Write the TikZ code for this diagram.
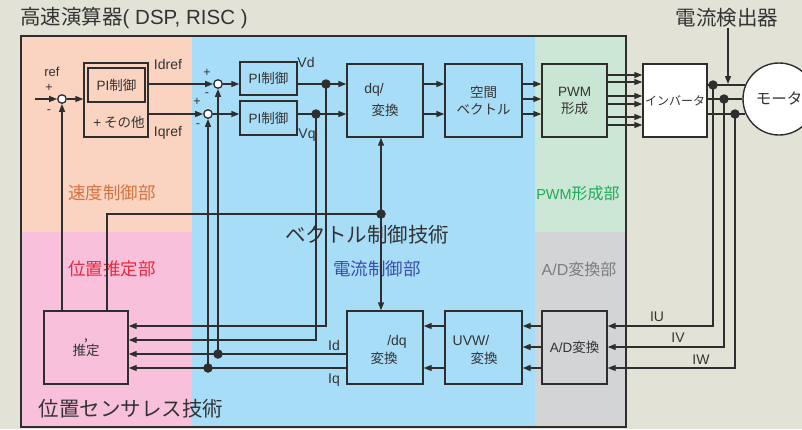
\documentclass[tikz,border=0pt]{standalone}
\usepackage{fontspec}
\setmainfont{Noto Sans CJK JP}
\newfontfamily\lat{Liberation Sans}
\usetikzlibrary{arrows.meta,positioning,calc}
\definecolor{bgpaper}{HTML}{E2E3D6}
\definecolor{peachz}{HTML}{FAD3C1}
\definecolor{pinkz}{HTML}{F8C0DA}
\definecolor{bluez}{HTML}{A8DDF8}
\definecolor{greenz}{HTML}{CDE7D7}
\definecolor{greyz}{HTML}{D3D4D6}
\definecolor{pwmfill}{HTML}{C9E5D3}
\definecolor{linec}{HTML}{2E2E2E}
\definecolor{txtc}{HTML}{333333}
\definecolor{speedc}{HTML}{D27442}
\definecolor{posc}{HTML}{E8283C}
\definecolor{curc}{HTML}{3A4DA8}
\definecolor{adc}{HTML}{7D7D7D}
\definecolor{pwmc}{HTML}{1DAA55}

\begin{document}
\begin{tikzpicture}[x=1pt,y=-1pt,
  blk/.style={rectangle, draw=linec, line width=1.4pt, fill=#1, minimum width=76pt, minimum height=73pt, align=center, inner sep=1pt, text=txtc, font=\fontsize{13.5}{17}\selectfont},
  blk/.default=none,
  sumpt/.style={circle, draw=linec, line width=1.3pt, fill=white, minimum size=8.5pt, inner sep=0pt},
  dot/.style={circle, fill=linec, minimum size=9.5pt, inner sep=0pt},
  arr/.style={-{Triangle[length=8pt,width=6pt]}, line width=1.4pt, draw=linec},
  ln/.style={line width=1.4pt, draw=linec},
  sig/.style={text=txtc, inner sep=0pt, font=\lat\fontsize{14}{16}\selectfont},
  pm/.style={text=txtc, inner sep=0pt, font=\lat\fontsize{12.5}{14}\selectfont},
  zone/.style={text=#1, inner sep=0pt, font=\fontsize{17.5}{20}\selectfont},
  ttl/.style={text=txtc, inner sep=0pt, font=\fontsize{20.5}{24}\selectfont}
]
  \useasboundingbox (0,0) rectangle (802,429);
  \fill[bgpaper] (0,0) rectangle (802,429);
  \fill[peachz] (21,36) rectangle (192,232);
  \fill[pinkz] (21,232) rectangle (192,427);
  \fill[bluez] (192,36) rectangle (535,427);
  \fill[greenz] (535,36) rectangle (626,232);
  \fill[greyz] (535,232) rectangle (626,427);
  \draw[line width=2pt, linec] (21,36) rectangle (626,427);

  \node[ttl, anchor=west] (title) at (20,18) {高速演算器{\lat( DSP, RISC )}};
  \node[ttl] (senslbl) at (727,18) {電流検出器};

  \node[zone=speedc] (lspeed) at (112,193) {速度制御部};
  \node[zone=pwmc, font=\fontsize{16}{18}\selectfont] (lpwm) at (578,193) {{\lat\fontsize{14.5}{18}\selectfont PWM}形成部};
  \node[zone=posc] (lpos) at (112,269) {位置推定部};
  \node[zone=curc] (lcur) at (377,269) {電流制御部};
  \node[zone=adc, font=\fontsize{16}{18}\selectfont] (lad) at (579,269) {{\lat A/D}変換部};
  \node[ttl] (lvec) at (367,235) {ベクトル制御技術};
  \node[ttl] (lsensless) at (131,409) {位置センサレス技術};

  % blocks
  \node[sumpt] (sumr) at (62,99) {};
  \node[blk, minimum width=64pt, minimum height=74pt] (pibig) at (116,100) {};
  \node[blk, minimum width=57pt, minimum height=34pt] (piin) at (116.5,85) {{\lat PI}制御};
  \node[sig, font=\fontsize{13.5}{15}\selectfont] (other) at (119,122) {{\lat +} その他};
  \node[sumpt] (sumd) at (218,84) {};
  \node[sumpt] (sumq) at (208,114) {};
  \node[blk, minimum width=57pt, minimum height=33pt] (pid) at (268.5,78.5) {{\lat PI}制御};
  \node[blk, minimum width=57pt, minimum height=34pt] (piq) at (268.5,118) {{\lat PI}制御};
  \node[blk] (dq) at (385,100.5) {};
  \node[blk, minimum width=77pt] (svec) at (483.5,100.5) {空間\\ベクトル};
  \node[blk=pwmfill, minimum width=65pt] (pwm) at (574.5,100.5) {{\lat PWM}\\形成};
  \node[blk=white, minimum width=64pt, font=\fontsize{12}{14}\selectfont] (inv) at (675,100.5) {インバータ};
  \node[blk=greyz, minimum width=65pt] (ad) at (574.5,347.5) {{\lat A/D}変換};
  \node[blk, minimum width=77pt] (uvw) at (483.5,347.5) {};
  \node[blk] (idq) at (385,347.5) {};
  \node[blk, minimum width=84pt, font=\fontsize{13.5}{15}\selectfont] (est) at (86,347.5) {,\\推定};

  \node[sig] (dqa) at ($(dq.center)+(-11,-10.5)$) {dq/};
  \node[sig, font=\fontsize{13.5}{15}\selectfont] (dqb) at ($(dq.center)+(0,9.5)$) {変換};
  \node[sig] (idqa) at ($(idq.center)+(12,-5.5)$) {/dq};
  \node[sig, font=\fontsize{13.5}{15}\selectfont] (idqb) at ($(idq.center)+(-1,10.5)$) {変換};
  \node[sig] (uvwa) at ($(uvw.center)+(-12.5,-7.5)$) {UVW/};
  \node[sig, font=\fontsize{13.5}{15}\selectfont] (uvwb) at ($(uvw.center)+(0.5,10.5)$) {変換};

  % signs and signal names
  \node[pm, font=\lat\fontsize{13}{15}\selectfont] (lref) at ($(sumr)+(-10,-27)$) {ref};
  \node[pm] (prp) at ($(sumr)+(-13,-11)$) {+};
  \node[pm] (prm) at ($(sumr)+(-13,13)$) {-};
  \node[pm] (pdp) at ($(sumd)+(-11,-11)$) {+};
  \node[pm] (pdm) at ($(sumd)+(-11,11)$) {-};
  \node[pm] (pqp) at ($(sumq)+(-11,-12)$) {+};
  \node[pm] (pqm) at ($(sumq)+(-10,12)$) {-};
  \node[sig] (lidref) at (168,64) {Idref};
  \node[sig] (liqref) at (168,133) {Iqref};
  \node[sig] (lvd) at (306,62) {Vd};
  \node[sig] (lvq) at (307,135) {Vq};
  \node[sig] (lid) at (334,345) {Id};
  \node[sig] (liq) at (334,380) {Iq};
  \node[sig] (liu) at (657,317) {IU};
  \node[sig] (liv) at (678,338) {IV};
  \node[sig] (liw) at (701,360) {IW};

  % junctions
  \node[dot] (jd) at (326,84) {};
  \node[dot] (jq) at (316,114) {};
  \node[dot] (jv) at (381,214) {};
  \node[dot] (jid) at (218,354) {};
  \node[dot] (jiq) at (208,368) {};
  \node[dot] (ju) at (713,85) {};
  \node[dot] (jvv) at (724,99) {};
  \node[dot] (jw) at (735,114) {};

  \coordinate (refin) at (35,99);
  \coordinate (f1) at (0,326);
  \coordinate (f2) at (0,340);
  \coordinate (iv) at (0,347);
  \coordinate (f4) at (0,368);
  \coordinate (sens) at (728,84);

  % forward path
  \draw[arr] (refin) -- (sumr);
  \draw[arr] (sumr) -- (pibig.west |- sumr);
  \draw[arr] (est.north -| sumr) -- (sumr);
  \draw[arr] (pibig.east |- sumd) -- (sumd);
  \draw[arr] (pibig.east |- sumq) -- (sumq);
  \draw[arr] (sumd) -- (pid.west |- sumd);
  \draw[arr] (sumq) -- (piq.west |- sumq);
  \draw[arr] (pid.east |- sumd) -- (dq.west |- sumd);
  \draw[arr] (piq.east |- sumq) -- (dq.west |- sumq);
  \draw[arr] (dq.east |- sumd) -- (svec.west |- sumd);
  \draw[arr] (dq.east |- sumq) -- (svec.west |- sumq);
  \foreach \r in {84,99,114}
    \draw[arr] (svec.east |- 0,\r) -- (pwm.west |- 0,\r);
  \foreach \r in {75,82,96,104,117,125}
    \draw[arr] (pwm.east |- 0,\r) -- (inv.west |- 0,\r);

  % feedback
  \draw[arr] (jd.center) -- (jd.center |- f1) -- (est.east |- f1);
  \draw[arr] (jq.center) -- (jq.center |- f2) -- (est.east |- f2);
  \draw[arr] (idq.west |- jid) -- (est.east |- jid);
  \draw[arr] (jid.center) -- (sumd);
  \draw[arr] (idq.west |- jiq) -- (est.east |- jiq);
  \draw[arr] (jiq.center) -- (sumq);
  \draw[arr] (jv.center) -- (dq.south -| jv);
  \draw[arr] (jv.center) -- (idq.north -| jv);
  \draw[ln] (jv.center) -| ([xshift=21pt]est.north);

  \draw[arr] (ju.center) -- (ju.center |- f1) -- (ad.east |- f1);
  \draw[arr] (jvv.center) -- (jvv.center |- iv) -- (ad.east |- iv);
  \draw[arr] (jw.center) -- (jw.center |- f4) -- (ad.east |- f4);
  \foreach \r in {326,347,368}
    \draw[arr] (ad.west |- 0,\r) -- (uvw.east |- 0,\r);
  \foreach \r in {326,368}
    \draw[arr] (uvw.west |- 0,\r) -- (idq.east |- 0,\r);

  % motor
  \node[circle, draw=linec, line width=1.4pt, fill=white, minimum size=72pt, inner sep=0pt, text=txtc, font=\fontsize{15.5}{18}\selectfont] (motor) at (779,99) {モータ};
  \draw[ln] (inv.east |- ju) -- (ju -| motor.157);
  \draw[ln] (inv.east |- jvv) -- (motor.west);
  \draw[ln] (inv.east |- jw) -- (jw -| motor.204);
  \draw[arr] (senslbl.south -| sens) -- (sens);
\end{tikzpicture}
\end{document}
